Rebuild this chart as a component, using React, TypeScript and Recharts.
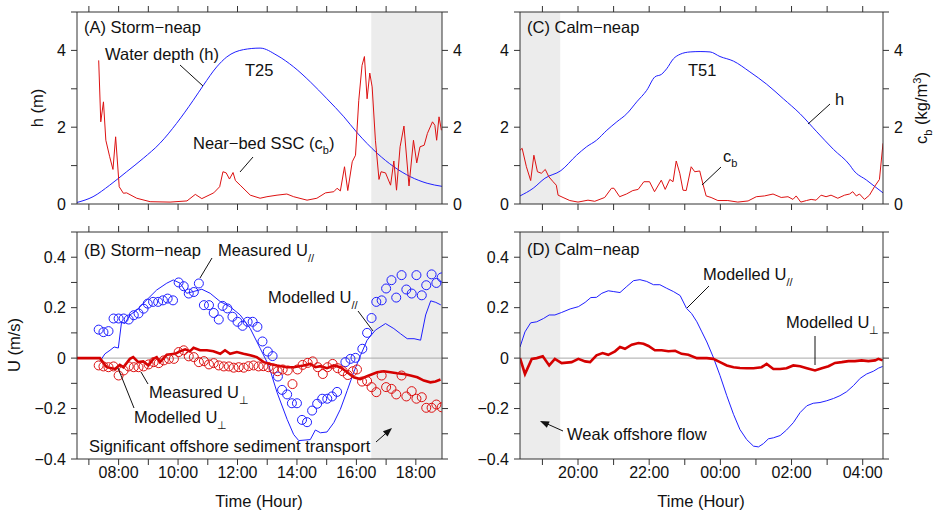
import React from "react";
import {
  ComposedChart,
  Line,
  Scatter,
  XAxis,
  YAxis,
  ReferenceArea,
  ReferenceLine,
} from "recharts";

type Pt = [number, number];

// hours of day (after midnight written as 24+)
const hoursStorm = [7, 8, 9, 10, 11, 12, 13, 14, 15, 16, 17, 18];
const hoursCalm = [19, 20, 21, 22, 23, 24, 25, 26, 27, 28];
const depthTicks = [0, 1, 2, 3, 4, 5];
const velTicks = [-0.4, -0.3, -0.2, -0.1, 0, 0.1, 0.2, 0.3, 0.4, 0.5];

// (A) storm-neap, T25
const depthStorm: Pt[] = [
  [6.6, 0.04], [7.14, 0.19], [7.7, 0.49], [8.27, 0.84], [8.83, 1.19], [9.39, 1.58],
  [9.95, 2.1], [10.51, 2.7], [10.85, 3.09], [11.3, 3.57], [11.64, 3.83], [12.2, 4.02],
  [12.76, 4.06], [13.33, 3.87], [13.89, 3.57], [14.45, 3.18], [15.01, 2.74], [15.58, 2.27],
  [16.02, 1.86], [16.7, 1.32], [17.26, 0.97], [17.82, 0.71], [18.38, 0.54], [18.88, 0.46],
];
const sscStorm: Pt[] = [
  [7.33, 3.74], [7.4, 2.14], [7.49, 2.66], [7.57, 1.66], [7.7, 1.23], [7.81, 0.9], [7.9, 1.75],
  [8.02, 0.45], [8.16, 0.28], [8.27, 0.29], [8.61, 0.15], [9.06, 0.06], [9.73, 0.05], [10.3, 0.08],
  [10.58, 0.25], [10.8, 0.14], [11.2, 0.29], [11.4, 0.45], [11.51, 0.84], [11.62, 0.81],
  [11.73, 0.65], [11.85, 0.82], [11.93, 0.61], [12.09, 0.49], [12.43, 0.23], [12.76, 0.15],
  [12.99, 0.19], [13.33, 0.23], [13.66, 0.26], [13.89, 0.19], [14.34, 0.1], [14.67, 0.15],
  [14.96, 0.29], [15.24, 0.32], [15.35, 0.41], [15.46, 0.34], [15.6, 0.97], [15.71, 0.35],
  [15.86, 1.1], [15.97, 1.27], [16.08, 2.7], [16.19, 3.61], [16.27, 3.84], [16.36, 2.74],
  [16.45, 3.41], [16.53, 3.05], [16.64, 1.66], [16.76, 0.64], [16.83, 0.84], [16.98, 0.81],
  [17.15, 0.49], [17.26, 1.12], [17.35, 0.36], [17.47, 1.49], [17.6, 2.03], [17.77, 0.47],
  [17.92, 1.66], [18.03, 1.07], [18.14, 1.49], [18.28, 1.53], [18.39, 1.84], [18.56, 2.14],
  [18.64, 2.05], [18.7, 1.66], [18.78, 2.27], [18.86, 1.92],
];

// (B) storm-neap velocities
const uParModStorm: Pt[] = [
  [7.37, -0.013], [7.54, 0.017], [7.71, 0.031], [7.85, 0.044], [7.99, 0.04], [8.1, 0.144],
  [8.21, 0.137], [8.38, 0.171], [8.61, 0.19], [8.94, 0.23], [9.28, 0.27], [9.62, 0.297],
  [9.84, 0.31], [10.07, 0.297], [10.29, 0.257], [10.52, 0.264], [10.8, 0.273], [11.08, 0.257],
  [11.42, 0.224], [11.75, 0.204], [12.09, 0.171], [12.43, 0.117], [12.77, 0.037],
  [13.05, -0.029], [13.33, -0.136], [13.67, -0.243], [13.89, -0.303], [14.06, -0.327],
  [14.45, -0.323], [14.62, -0.285], [14.79, -0.296], [15.01, -0.293], [15.24, -0.256],
  [15.46, -0.203], [15.69, -0.129], [15.91, -0.056], [16.14, 0.011], [16.36, 0.071],
  [16.64, 0.111], [16.98, 0.137], [17.26, 0.117], [17.48, 0.097], [17.71, 0.077],
  [17.94, 0.077], [18.16, 0.071], [18.33, 0.171], [18.5, 0.227], [18.67, 0.221], [18.84, 0.211],
];
const uParMeasStorm: Pt[] = [
  [7.33, 0.113], [7.49, 0.103], [7.66, 0.107], [7.83, 0.157], [8.0, 0.157], [8.17, 0.157],
  [8.34, 0.153], [8.51, 0.17], [8.67, 0.177], [8.84, 0.196], [8.98, 0.216], [9.16, 0.223],
  [9.33, 0.223], [9.49, 0.229], [9.65, 0.236], [9.83, 0.229], [10.02, 0.3], [10.19, 0.285],
  [10.36, 0.256], [10.53, 0.262], [10.7, 0.296], [10.87, 0.21], [11.04, 0.21], [11.2, 0.179],
  [11.37, 0.153], [11.5, 0.207], [11.66, 0.197], [11.83, 0.164], [12.0, 0.144], [12.17, 0.128],
  [12.34, 0.144], [12.51, 0.144], [12.67, 0.124], [12.84, 0.066], [13.02, 0.026], [13.18, 0.008],
  [13.36, -0.073], [13.5, -0.126], [13.67, -0.144], [13.83, -0.179], [14.0, -0.179],
  [14.17, -0.245], [14.34, -0.254], [14.51, -0.208], [14.68, -0.181], [14.85, -0.161],
  [15.02, -0.161], [15.18, -0.152], [15.35, -0.134], [15.63, -0.016], [15.8, -0.003],
  [15.97, 0.001], [16.2, 0.037], [16.36, 0.1], [16.51, 0.159], [16.67, 0.223], [16.85, 0.229],
  [17.0, 0.276], [17.18, 0.309], [17.34, 0.24], [17.52, 0.329], [17.68, 0.272], [17.86, 0.256],
  [18.02, 0.329], [18.2, 0.249], [18.35, 0.289], [18.53, 0.332], [18.69, 0.298], [18.87, 0.32],
];
const uPerpModStorm: Pt[] = [
  [6.6, 0], [7.37, 0], [7.6, -0.036], [7.88, -0.043], [8.04, -0.027], [8.16, -0.036],
  [8.38, -0.003], [8.49, 0.004], [8.66, -0.016], [8.83, -0.013], [9.0, -0.029], [9.17, -0.003],
  [9.28, 0.004], [9.39, -0.016], [9.62, 0.013], [9.9, 0.017], [10.07, 0.027], [10.24, 0.035],
  [10.4, 0.027], [10.52, 0.041], [10.74, 0.031], [10.97, 0.031], [11.19, 0.027], [11.42, 0.017],
  [11.58, 0.031], [11.75, 0.017], [11.98, 0.024], [12.2, 0.017], [12.43, 0.011], [12.65, 0.004],
  [12.88, -0.016], [13.1, -0.023], [13.33, -0.029], [13.66, -0.036], [13.89, -0.036],
  [14.22, -0.029], [14.45, -0.023], [14.62, -0.036], [14.79, -0.032], [15.01, -0.04],
  [15.24, -0.029], [15.46, -0.036], [15.69, -0.056], [15.91, -0.076], [16.13, -0.083],
  [16.42, -0.069], [16.7, -0.056], [16.92, -0.052], [17.15, -0.056], [17.37, -0.06],
  [17.6, -0.063], [17.82, -0.069], [18.05, -0.076], [18.27, -0.089], [18.49, -0.096],
  [18.66, -0.093], [18.83, -0.085],
];
const uPerpMeasStorm: Pt[] = [
  [7.33, -0.029], [7.49, -0.033], [7.66, -0.036], [7.83, -0.033], [8.0, -0.069], [8.17, -0.049],
  [8.34, -0.033], [8.51, -0.036], [8.67, -0.036], [8.84, -0.033], [9.01, -0.025], [9.18, -0.016],
  [9.35, -0.02], [9.52, -0.009], [9.69, -0.003], [9.86, -0.003], [10.02, 0.024], [10.19, 0.031],
  [10.36, 0.007], [10.53, 0.004], [10.7, -0.016], [10.87, -0.012], [11.04, -0.025], [11.2, -0.02],
  [11.37, -0.029], [11.54, -0.033], [11.71, -0.033], [11.87, -0.038], [12.04, -0.036],
  [12.21, -0.038], [12.37, -0.032], [12.54, -0.029], [12.71, -0.033], [12.87, -0.032],
  [13.04, -0.036], [13.21, -0.042], [13.35, -0.052], [13.52, -0.045], [13.69, -0.049],
  [13.85, -0.103], [14.02, -0.045], [14.19, -0.027], [14.36, -0.019], [14.53, -0.013],
  [14.7, -0.036], [14.87, -0.063], [15.03, -0.036], [15.2, -0.023], [15.37, -0.04],
  [15.54, -0.052], [15.71, -0.067], [15.88, -0.052], [16.02, -0.045], [16.19, -0.093],
  [16.36, -0.091], [16.51, -0.115], [16.67, -0.135], [16.85, -0.069], [17.0, -0.115],
  [17.18, -0.122], [17.34, -0.144], [17.52, -0.069], [17.68, -0.152], [17.86, -0.131],
  [18.02, -0.161], [18.2, -0.155], [18.35, -0.197], [18.53, -0.197], [18.69, -0.184], [18.87, -0.195],
];

// (C) calm-neap, T51
const depthCalm: Pt[] = [
  [18.37, 0.21], [18.74, 0.41], [19.07, 0.67], [19.52, 0.87], [19.96, 1.27], [20.24, 1.49],
  [20.52, 1.66], [20.81, 1.92], [21.09, 2.14], [21.37, 2.35], [21.65, 2.66], [21.93, 2.96],
  [22.16, 3.31], [22.35, 3.38], [22.49, 3.52], [22.68, 3.78], [22.87, 3.9], [23.15, 3.96],
  [23.43, 3.97], [23.71, 3.96], [23.99, 3.84], [24.37, 3.72], [24.83, 3.44], [25.3, 3.12],
  [25.77, 2.74], [26.24, 2.35], [26.71, 1.88], [27.18, 1.42], [27.64, 1.01], [27.74, 0.88],
  [28.11, 0.62], [28.57, 0.29],
];
const sscCalm: Pt[] = [
  [18.37, 1.4], [18.43, 1.45], [18.55, 0.97], [18.67, 0.61], [18.76, 1.27], [18.86, 0.84],
  [18.97, 0.8], [19.08, 0.9], [19.18, 0.71], [19.3, 0.58], [19.39, 0.49], [19.44, 0.23],
  [19.58, 0.17], [19.77, 0.09], [20.0, 0.05], [20.28, 0.1], [20.47, 0.07], [20.75, 0.17],
  [20.94, 0.41], [21.01, 0.41], [21.17, 0.19], [21.36, 0.26], [21.54, 0.35], [21.69, 0.38],
  [21.85, 0.58], [22.01, 0.58], [22.15, 0.32], [22.34, 0.62], [22.45, 0.38], [22.58, 0.64],
  [22.67, 0.58], [22.76, 1.12], [22.86, 0.8], [22.95, 0.36], [23.04, 0.35], [23.18, 0.97],
  [23.28, 0.84], [23.42, 0.86], [23.51, 0.52], [23.6, 0.21], [23.74, 0.17], [23.93, 0.09],
  [24.21, 0.09], [24.49, 0.05], [24.78, 0.08], [25.01, 0.19], [25.24, 0.21], [25.48, 0.26],
  [25.71, 0.17], [25.9, 0.19], [26.04, 0.12], [26.13, 0.21], [26.26, 0.05], [26.42, 0.09],
  [26.55, 0.12], [26.69, 0.1], [26.83, 0.23], [26.97, 0.19], [27.11, 0.23], [27.3, 0.15],
  [27.49, 0.23], [27.63, 0.26], [27.72, 0.32], [27.82, 0.21], [27.91, 0.26], [28.05, 0.12],
  [28.19, 0.23], [28.33, 0.45], [28.47, 0.64], [28.57, 1.58],
];

// (D) calm-neap modelled velocities
const uParModCalm: Pt[] = [
  [18.37, 0.044], [18.51, 0.104], [18.67, 0.14], [18.84, 0.144], [19.03, 0.157], [19.19, 0.171],
  [19.35, 0.171], [19.54, 0.181], [19.78, 0.195], [20.01, 0.204], [20.2, 0.221], [20.36, 0.24],
  [20.52, 0.241], [20.67, 0.257], [20.85, 0.267], [20.99, 0.264], [21.18, 0.26], [21.37, 0.284],
  [21.56, 0.307], [21.74, 0.311], [21.93, 0.304], [22.12, 0.291], [22.3, 0.291], [22.49, 0.277],
  [22.68, 0.264], [22.87, 0.248], [23.05, 0.197], [23.19, 0.177], [23.34, 0.144], [23.48, 0.104],
  [23.62, 0.064], [23.8, 0.004], [23.99, -0.069], [24.18, -0.149], [24.37, -0.223],
  [24.55, -0.283], [24.74, -0.323], [24.93, -0.349], [25.07, -0.352], [25.21, -0.339],
  [25.35, -0.32], [25.49, -0.316], [25.68, -0.307], [25.86, -0.285], [26.05, -0.256],
  [26.24, -0.216], [26.43, -0.189], [26.61, -0.179], [26.8, -0.176], [26.99, -0.169],
  [27.18, -0.16], [27.36, -0.149], [27.55, -0.133], [27.74, -0.109], [27.93, -0.08],
  [28.11, -0.063], [28.3, -0.052], [28.44, -0.04], [28.56, -0.033],
];
const uPerpModCalm: Pt[] = [
  [18.37, 0], [18.51, -0.063], [18.7, -0.003], [18.84, 0], [19.01, 0.007], [19.19, -0.029],
  [19.35, -0.003], [19.54, -0.02], [19.82, -0.016], [20.01, -0.003], [20.2, -0.013],
  [20.34, -0.016], [20.52, 0.011], [20.69, 0.02], [20.85, 0.013], [21.04, 0.027], [21.18, 0.044],
  [21.32, 0.037], [21.51, 0.053], [21.7, 0.06], [21.84, 0.057], [21.98, 0.048], [22.16, 0.031],
  [22.35, 0.031], [22.54, 0.027], [22.73, 0.029], [22.91, 0.017], [23.1, 0.013], [23.34, 0],
  [23.62, 0], [23.8, -0.003], [23.99, -0.016], [24.18, -0.029], [24.37, -0.036], [24.55, -0.039],
  [24.74, -0.04], [24.93, -0.04], [25.16, -0.036], [25.3, -0.023], [25.49, -0.043],
  [25.68, -0.043], [25.86, -0.04], [26.05, -0.029], [26.24, -0.032], [26.43, -0.04],
  [26.66, -0.049], [26.85, -0.04], [27.04, -0.032], [27.22, -0.019], [27.41, -0.016],
  [27.6, -0.012], [27.78, -0.012], [27.97, -0.009], [28.16, -0.012], [28.35, -0.009],
  [28.44, -0.003], [28.56, -0.009],
];

const FONT = '"Liberation Sans", Arial, Helvetica, sans-serif';
const INK = "#111";
const FRAME = "#333";
const BLUE = "#1f1fff";
const RED = "#dd1111";
const SHADE = "#ececec";

const rows = (pts: Pt[]) => pts.map(([t, v]) => ({ t, v }));

const blank = () => "";
const fmtHour = (h: number) => {
  const k = Math.round(h);
  if (k % 2) return "";
  return String(k % 24).padStart(2, "0") + ":00";
};
const fmtDepth = (v: number) => (Math.round(v) % 2 ? "" : String(Math.round(v)));
const fmtVel = (v: number) => {
  const k = Math.round(v * 10);
  if (k % 2) return "";
  if (k === 0) return "0";
  return (k < 0 ? "\u2212" : "") + (Math.abs(k) / 10).toFixed(1);
};

const tickStyle = { fill: INK, fontSize: 16, fontFamily: FONT };

type AxOpts = {
  xDomain: [number, number];
  xTicks: number[];
  yDomain: [number, number];
  yTicks: number[];
  leftW: number;
  rightW: number;
  topH: number;
  bottomH: number;
  xFmt: (v: number) => string;
  yFmtL: (v: number) => string;
  yFmtR: (v: number) => string;
};

function axes(o: AxOpts) {
  const common = { stroke: FRAME, tickSize: 6, interval: 0 as const, tick: tickStyle, allowDataOverflow: true };
  return [
    <XAxis key="xb" xAxisId="b" type="number" dataKey="t" domain={o.xDomain} ticks={o.xTicks}
      height={o.bottomH} tickMargin={2} tickFormatter={o.xFmt} {...common} />,
    <XAxis key="xt" xAxisId="t" orientation="top" type="number" dataKey="t" domain={o.xDomain}
      ticks={o.xTicks} height={o.topH} tickFormatter={blank} {...common} />,
    <YAxis key="yl" yAxisId="l" type="number" dataKey="v" domain={o.yDomain} ticks={o.yTicks}
      width={o.leftW} tickMargin={5} tickFormatter={o.yFmtL} {...common} />,
    <YAxis key="yr" yAxisId="r" orientation="right" type="number" dataKey="v" domain={o.yDomain}
      ticks={o.yTicks} width={o.rightW} tickMargin={5} tickFormatter={o.yFmtR} {...common} />,
  ];
}

const circle = (color: string) => (p: any) =>
  <circle cx={p.cx} cy={p.cy} r={4.5} fill="none" stroke={color} strokeWidth={1} />;

function arrowHead(x1: number, y1: number, x2: number, y2: number) {
  const dx = x2 - x1, dy = y2 - y1;
  const L = Math.hypot(dx, dy);
  const ux = dx / L, uy = dy / L;
  const bx = x2 - ux * 9, by = y2 - uy * 9;
  const px = -uy * 3.5, py = ux * 3.5;
  return `${x2},${y2} ${bx + px},${by + py} ${bx - px},${by - py}`;
}

const stormX: [number, number] = [6.6, 18.88];
const calmX: [number, number] = [18.37, 28.57];

export default function App() {
  const box = (left: number, top: number, w: number, h: number) => ({
    position: "absolute" as const, left, top, width: w, height: h,
  });
  const tProps = { fontFamily: FONT, fontSize: 16.5, fill: INK };
  const sub = { fontSize: 11 };

  return (
    <div style={{ position: "absolute", left: 0, top: 0, width: 942, height: 511, background: "#fff", fontFamily: FONT }}>
      {/* (A) */}
      <div style={box(0, 0, 471, 215)}>
        <ComposedChart width={471} height={215} margin={{ top: 0, right: 0, bottom: 0, left: 0 }}>
          {axes({ xDomain: stormX, xTicks: hoursStorm, yDomain: [0, 5], yTicks: depthTicks, leftW: 77, rightW: 29, topH: 12, bottomH: 11, xFmt: blank, yFmtL: fmtDepth, yFmtR: fmtDepth })}
          <ReferenceArea xAxisId="t" yAxisId="r" x1={16.5} x2={18.88} fill={SHADE} fillOpacity={1} stroke="none" ifOverflow="hidden" />
          <Line xAxisId="b" yAxisId="l" data={rows(depthStorm)} dataKey="v" type="monotone" stroke={BLUE} strokeWidth={1} dot={false} isAnimationActive={false} />
          <Line xAxisId="b" yAxisId="r" data={rows(sscStorm)} dataKey="v" type="linear" stroke={RED} strokeWidth={1} dot={false} isAnimationActive={false} />
        </ComposedChart>
      </div>

      {/* (C) */}
      <div style={box(471, 0, 471, 215)}>
        <ComposedChart width={471} height={215} margin={{ top: 0, right: 0, bottom: 0, left: 0 }}>
          {axes({ xDomain: calmX, xTicks: hoursCalm, yDomain: [0, 5], yTicks: depthTicks, leftW: 49, rightW: 59, topH: 12, bottomH: 11, xFmt: blank, yFmtL: fmtDepth, yFmtR: fmtDepth })}
          <ReferenceArea xAxisId="t" yAxisId="r" x1={18.37} x2={19.5} fill={SHADE} fillOpacity={1} stroke="none" ifOverflow="hidden" />
          <Line xAxisId="b" yAxisId="l" data={rows(depthCalm)} dataKey="v" type="monotone" stroke={BLUE} strokeWidth={1} dot={false} isAnimationActive={false} />
          <Line xAxisId="b" yAxisId="r" data={rows(sscCalm)} dataKey="v" type="linear" stroke={RED} strokeWidth={1} dot={false} isAnimationActive={false} />
        </ComposedChart>
      </div>

      {/* (B) */}
      <div style={box(0, 215, 471, 296)}>
        <ComposedChart width={471} height={296} margin={{ top: 0, right: 0, bottom: 0, left: 0 }}>
          {axes({ xDomain: stormX, xTicks: hoursStorm, yDomain: [-0.4, 0.5], yTicks: velTicks, leftW: 77, rightW: 29, topH: 17, bottomH: 52, xFmt: fmtHour, yFmtL: fmtVel, yFmtR: blank })}
          <ReferenceArea xAxisId="t" yAxisId="r" x1={16.5} x2={18.88} fill={SHADE} fillOpacity={1} stroke="none" ifOverflow="hidden" />
          <ReferenceLine xAxisId="b" yAxisId="l" y={0} stroke="#a8a8a8" strokeWidth={1} />
          <Line xAxisId="b" yAxisId="l" data={rows(uParModStorm)} dataKey="v" type="linear" stroke={BLUE} strokeWidth={1} dot={false} isAnimationActive={false} />
          <Scatter xAxisId="b" yAxisId="l" data={rows(uParMeasStorm)} dataKey="v" shape={circle(BLUE)} isAnimationActive={false} />
          <Scatter xAxisId="b" yAxisId="l" data={rows(uPerpMeasStorm)} dataKey="v" shape={circle(RED)} isAnimationActive={false} />
          <Line xAxisId="b" yAxisId="r" data={rows(uPerpModStorm)} dataKey="v" type="linear" stroke="#d40000" strokeWidth={2.6} dot={false} isAnimationActive={false} />
        </ComposedChart>
      </div>

      {/* (D) */}
      <div style={box(471, 215, 471, 296)}>
        <ComposedChart width={471} height={296} margin={{ top: 0, right: 0, bottom: 0, left: 0 }}>
          {axes({ xDomain: calmX, xTicks: hoursCalm, yDomain: [-0.4, 0.5], yTicks: velTicks, leftW: 49, rightW: 59, topH: 17, bottomH: 52, xFmt: fmtHour, yFmtL: fmtVel, yFmtR: blank })}
          <ReferenceArea xAxisId="t" yAxisId="r" x1={18.37} x2={19.5} fill={SHADE} fillOpacity={1} stroke="none" ifOverflow="hidden" />
          <ReferenceLine xAxisId="b" yAxisId="l" y={0} stroke="#a8a8a8" strokeWidth={1} />
          <Line xAxisId="b" yAxisId="l" data={rows(uParModCalm)} dataKey="v" type="linear" stroke={BLUE} strokeWidth={1} dot={false} isAnimationActive={false} />
          <Line xAxisId="b" yAxisId="r" data={rows(uPerpModCalm)} dataKey="v" type="linear" stroke="#d40000" strokeWidth={2.6} dot={false} isAnimationActive={false} />
        </ComposedChart>
      </div>

      {/* annotations */}
      <svg width={942} height={511} style={{ position: "absolute", left: 0, top: 0, pointerEvents: "none" }}>
        <g {...tProps}>
          {/* axis titles */}
          <text transform="translate(43,108) rotate(-90)" textAnchor="middle">h (m)</text>
          <text transform="translate(20,345) rotate(-90)" textAnchor="middle">U (m/s)</text>
          <text transform="translate(927,108) rotate(-90)" textAnchor="middle">
            c<tspan dy={5} {...sub}>b</tspan><tspan dy={-5}> (kg/m</tspan><tspan dy={-6} {...sub}>3</tspan><tspan dy={6}>)</tspan>
          </text>
          <text x={259} y={507} textAnchor="middle">Time (Hour)</text>
          <text x={701} y={507} textAnchor="middle">Time (Hour)</text>

          {/* panel A */}
          <text x={84} y={33}>(A) Storm−neap</text>
          <text x={105} y={60}>Water depth (h)</text>
          <text x={245} y={76}>T25</text>
          <text x={193} y={149}>Near−bed SSC (c<tspan dy={5} {...sub}>b</tspan><tspan dy={-5}>)</tspan></text>

          {/* panel C */}
          <text x={527} y={33}>(C) Calm−neap</text>
          <text x={688} y={76}>T51</text>
          <text x={835} y={105}>h</text>
          <text x={723} y={162}>c<tspan dy={5} {...sub}>b</tspan></text>

          {/* panel B */}
          <text x={84} y={256}>(B) Storm−neap</text>
          <text x={218} y={256}>Measured U<tspan dy={6} {...sub}>//</tspan></text>
          <text x={268} y={303}>Modelled U<tspan dy={6} {...sub}>//</tspan></text>
          <text x={149} y={398}>Measured U<tspan dy={6} {...sub}>⊥</tspan></text>
          <text x={134} y={423}>Modelled U<tspan dy={6} {...sub}>⊥</tspan></text>
          <text x={89} y={452}>Significant offshore sediment transport</text>

          {/* panel D */}
          <text x={527} y={255}>(D) Calm−neap</text>
          <text x={703} y={280}>Modelled U<tspan dy={6} {...sub}>//</tspan></text>
          <text x={786} y={328}>Modelled U<tspan dy={6} {...sub}>⊥</tspan></text>
          <text x={567} y={440}>Weak offshore flow</text>
        </g>
        <g stroke={INK} strokeWidth={1} fill="none">
          <line x1={180} y1={65} x2={203} y2={86} />
          <line x1={253} y1={157} x2={240} y2={172} />
          <line x1={830} y1={104} x2={808} y2={124} />
          <line x1={721} y1={167} x2={702} y2={185} />
          <line x1={212} y1={258} x2={200} y2={278} />
          <line x1={358} y1={311} x2={373} y2={331} />
          <line x1={148} y1={384} x2={141} y2={372} />
          <line x1={134} y1={408} x2={118} y2={368} />
          <line x1={709} y1={286} x2={687} y2={308} />
          <line x1={815} y1={336} x2={815} y2={365} />
          <line x1={376} y1={442} x2={388} y2={431.5} />
          <line x1={563} y1={431} x2={544} y2={422.5} />
        </g>
        <polygon points={arrowHead(376, 442, 392, 428)} fill={INK} />
        <polygon points={arrowHead(563, 431, 540, 421)} fill={INK} />
      </svg>
    </div>
  );
}
